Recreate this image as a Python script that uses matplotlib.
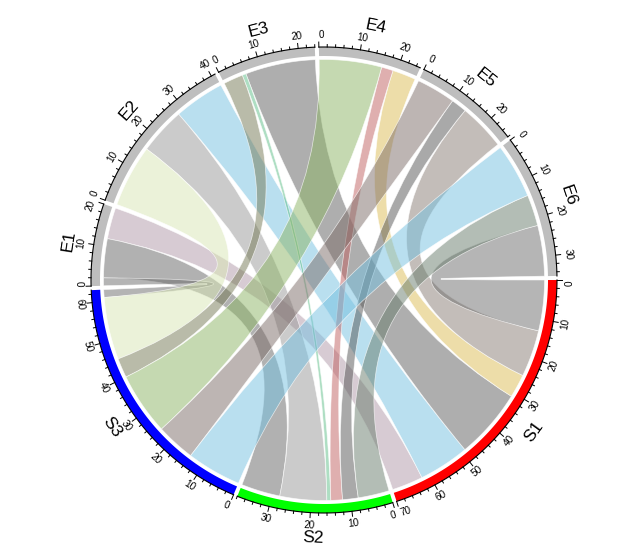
import numpy as np
import matplotlib
matplotlib.use("Agg")
import matplotlib.pyplot as plt
from matplotlib.path import Path
from matplotlib.patches import PathPatch, Polygon

# ---------------- data ----------------
rows = ["S1", "S2", "S3"]
cols = ["E1", "E2", "E3", "E4", "E5", "E6"]
s1_values = [8, 13, 18, 6, 12, 13]
s2_values = [10, 12, 1, 3, 4, 8]
s3_values = [2, 16, 5, 16, 10, 14]

grid_colors = ["#FF0000", "#00FF00", "#0000FF",
               "#BEBEBE", "#BEBEBE", "#BEBEBE", "#BEBEBE", "#BEBEBE", "#BEBEBE"]
s1_link_colors = ["#B199A9", "#75C1E1", "#5E5E5E", "#DDBD55", "#897D75", "#6D6D6D"]
s2_link_colors = ["#656565", "#999999", "#5FBF88", "#C16161", "#555555", "#697D6D"]
s3_link_colors = ["#6A6A6A", "#D9E7B5", "#757955", "#8DB565", "#7D6D69", "#75C1E1"]

values = np.array([s1_values, s2_values, s3_values], dtype=float)
link_colors = [s1_link_colors, s2_link_colors, s3_link_colors]

# ---------------- layout ----------------
W, H, DPI = 634, 549, 100
CX, CY = 324.0, 280.0
R_LINK = 220.5
R_TRACK_IN = 224.0
R_TRACK_OUT = 233.0
R_TICKLAB = 245.5
R_NAME = 258.5
GAP = 1.0

sectors = rows + cols
totals = list(values.sum(axis=1)) + list(values.sum(axis=0))
unit = (360.0 - GAP * len(sectors)) / sum(totals)
starts = []
a = 0.0
for t in totals:
    starts.append(a)
    a += t * unit + GAP


def pt(ang, r):
    t = np.radians(ang)
    return CX + r * np.cos(t), CY + r * np.sin(t)


def arc(a1, a2, r, n=80):
    angs = np.linspace(a1, a2, n)
    return [pt(x, r) for x in angs]


def is_bottom(ang):
    return (ang % 360) < 180


def text_rot(ang):
    ang = ang % 360
    if ang < 180:
        rot = 90 - ang
    else:
        rot = -ang - 90
    return (rot + 180) % 360 - 180


fig = plt.figure(figsize=(W / DPI, H / DPI), dpi=DPI)
ax = fig.add_axes([0, 0, 1, 1])
ax.set_xlim(0, W)
ax.set_ylim(H, 0)
ax.set_aspect("equal")
ax.axis("off")

# ---------------- link roots ----------------
nr, nc = values.shape
row_roots = {}
for i in range(nr):
    pos = starts[i]
    for j in reversed(range(nc)):
        w = values[i, j] * unit
        row_roots[(i, j)] = (pos, pos + w)
        pos += w
col_roots = {}
for j in range(nc):
    pos = starts[nr + j]
    for i in reversed(range(nr)):
        w = values[i, j] * unit
        col_roots[(i, j)] = (pos, pos + w)
        pos += w

# ---------------- links ----------------
for j in range(nc):
    for i in range(nr):
        a1, a2 = row_roots[(i, j)]
        b1, b2 = col_roots[(i, j)]
        verts, codes = [], []
        pa = arc(a1, a2, R_LINK)
        verts += pa
        codes += [Path.MOVETO] + [Path.LINETO] * (len(pa) - 1)
        verts += [(CX, CY), pt(b1, R_LINK)]
        codes += [Path.CURVE3, Path.CURVE3]
        pb = arc(b1, b2, R_LINK)[1:]
        verts += pb
        codes += [Path.LINETO] * len(pb)
        verts += [(CX, CY), pt(a1, R_LINK)]
        codes += [Path.CURVE3, Path.CURVE3]
        verts.append(pt(a1, R_LINK))
        codes.append(Path.CLOSEPOLY)
        col = matplotlib.colors.to_rgb(link_colors[i][j])
        patch = PathPatch(Path(verts, codes), facecolor=(*col, 0.5),
                          edgecolor=(1, 1, 1, 0.7), linewidth=0.5, zorder=2)
        ax.add_patch(patch)

# ---------------- grid track, axis, labels ----------------
for k, name in enumerate(sectors):
    s = starts[k]
    e = s + totals[k] * unit
    poly = arc(s, e, R_TRACK_OUT) + arc(e, s, R_TRACK_IN)
    ax.add_patch(Polygon(poly, closed=True, facecolor=grid_colors[k],
                         edgecolor="none", zorder=3))
    axis_line = np.array(arc(s, e, R_TRACK_OUT))
    ax.plot(axis_line[:, 0], axis_line[:, 1], color="black", lw=0.8, zorder=4)
    v = 0
    while v <= totals[k] + 1e-9:
        ang = s + v * unit
        major = (v % 10 == 0)
        ln = 5.0 if major else 2.5
        p0 = pt(ang, R_TRACK_OUT)
        p1 = pt(ang, R_TRACK_OUT + ln)
        ax.plot([p0[0], p1[0]], [p0[1], p1[1]], color="black", lw=0.7, zorder=4)
        if major:
            lx, ly = pt(ang, R_TICKLAB)
            ha = "center"
            if v == 0:
                ha = "right" if is_bottom(ang) else "left"
            elif abs(v - totals[k]) < 1e-9:
                ha = "left" if is_bottom(ang) else "right"
            ax.text(lx, ly, str(int(v)), fontsize=7.2, family="Liberation Sans",
                    rotation=text_rot(ang), rotation_mode="anchor",
                    ha=ha, va="center", zorder=5)
        v += 2
    mid = (s + e) / 2
    nx, ny = pt(mid, R_NAME)
    ax.text(nx, ny, name, fontsize=12.5, family="Liberation Sans",
            rotation=text_rot(mid), rotation_mode="anchor",
            ha="center", va="center", zorder=5)

fig.savefig("out.png", dpi=DPI)
